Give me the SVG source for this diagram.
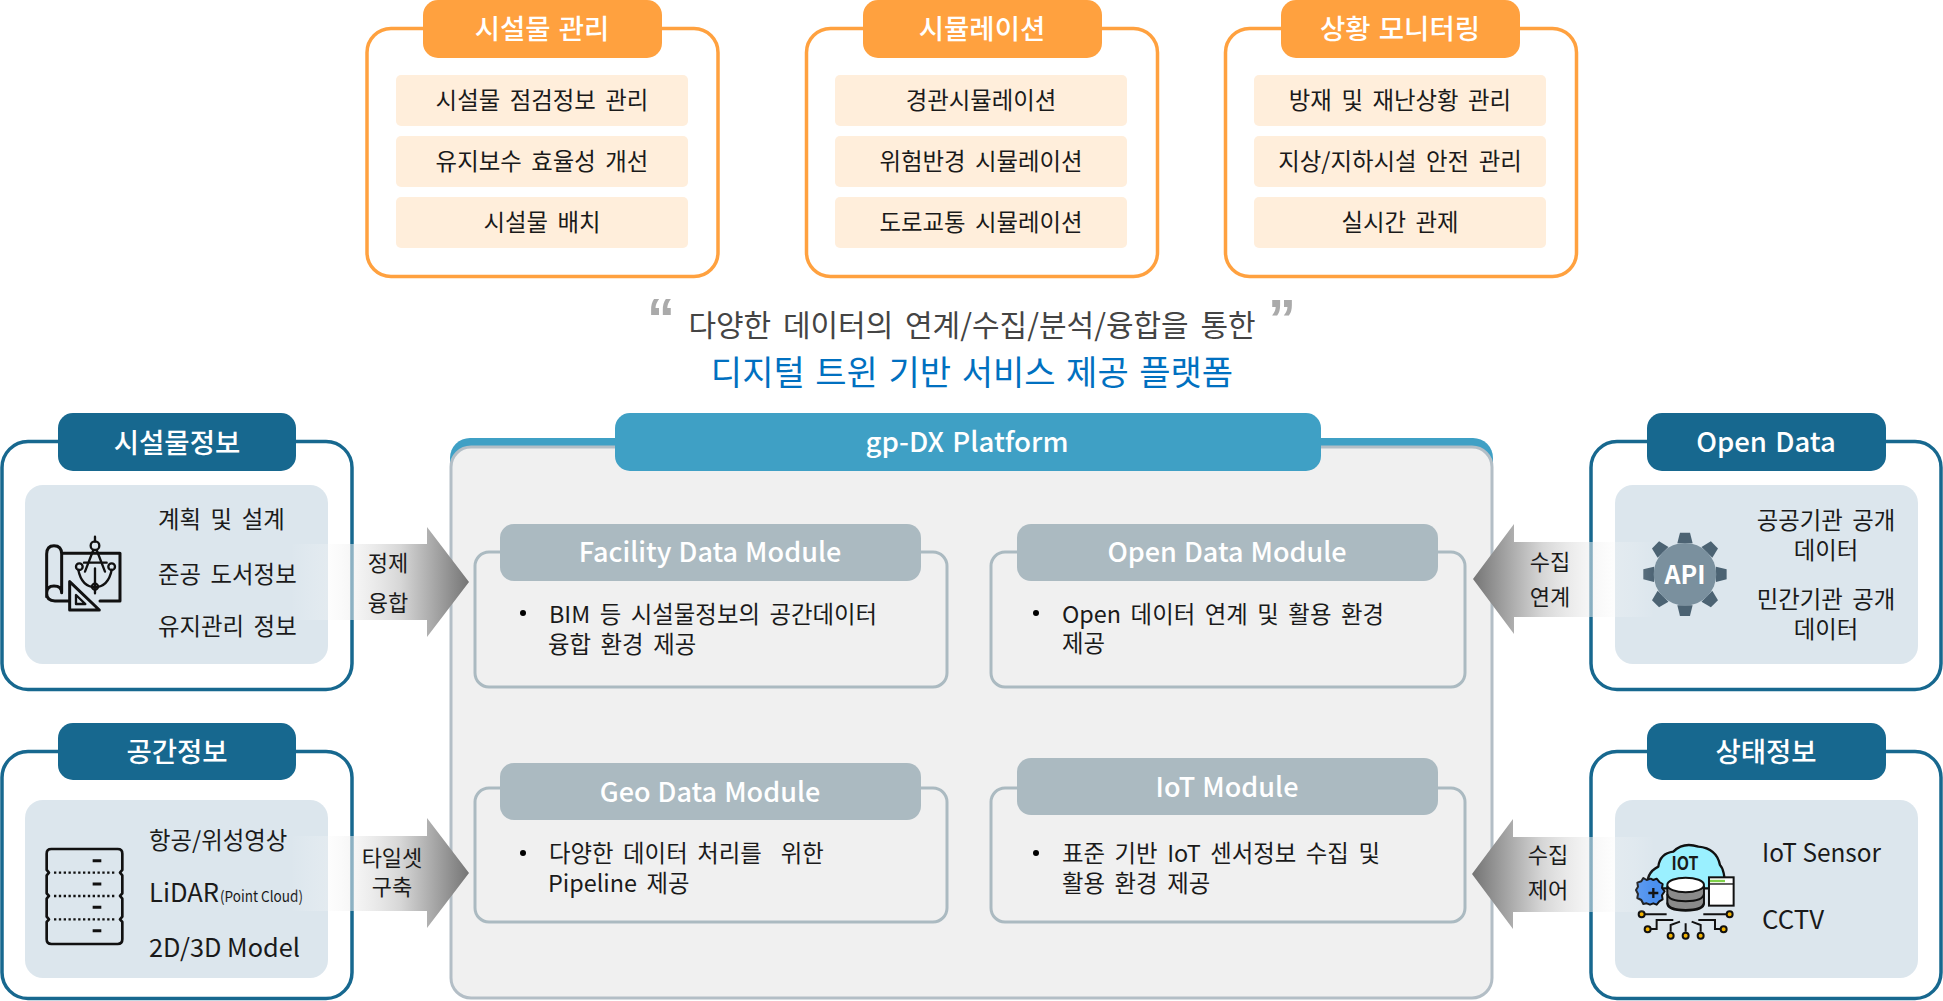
<svg xmlns="http://www.w3.org/2000/svg" width="1943" height="1001" viewBox="0 0 1943 1001">
<defs>
<style>
text{font-family:"Noto Sans CJK KR","Noto Sans",sans-serif;fill:#1a1a1a;white-space:pre}
.m{text-anchor:middle}
.t{font-size:23.4px;word-spacing:4.3px}
.h{font-size:27.5px;font-weight:500;fill:#fff;text-anchor:middle;word-spacing:2px}
.l{font-size:22px;text-anchor:middle}
.mh{font-size:27px;font-weight:500;fill:#fff;text-anchor:middle;word-spacing:1px}
.q{font-family:"Liberation Sans",sans-serif;font-size:56px;font-weight:700;fill:#aaa}
.oframe{fill:#fff;stroke:#ffa13f;stroke-width:3.5}
.ohead{fill:#ffa13f}
.oitem{fill:#ffeedb}
.bframe{fill:#fff;stroke:#17688f;stroke-width:3.5}
.bhead{fill:#17688f}
.inner{fill:#dce6ed}
.mframe{fill:none;stroke:#abbac1;stroke-width:3}
.mhead{fill:#abbac1}
.ic{fill:none;stroke:#111;stroke-width:9;stroke-linecap:round;stroke-linejoin:round}
</style>
<linearGradient id="gl1" gradientUnits="userSpaceOnUse" x1="290" y1="0" x2="469" y2="0">
<stop offset="0" stop-color="#fff" stop-opacity="0"/><stop offset=".21" stop-color="#f8f8f8" stop-opacity=".25"/><stop offset=".35" stop-color="#eee" stop-opacity=".55"/><stop offset=".62" stop-color="#d6d6d6"/><stop offset=".77" stop-color="#b0b0b0"/><stop offset="1" stop-color="#757575"/>
</linearGradient>
<linearGradient id="gr1" gradientUnits="userSpaceOnUse" x1="1655" y1="0" x2="1473" y2="0">
<stop offset="0" stop-color="#fff" stop-opacity="0"/><stop offset=".22" stop-color="#f8f8f8" stop-opacity=".25"/><stop offset=".36" stop-color="#eee" stop-opacity=".55"/><stop offset=".62" stop-color="#d6d6d6"/><stop offset=".77" stop-color="#b0b0b0"/><stop offset="1" stop-color="#757575"/>
</linearGradient>
</defs>
<rect width="1943" height="1001" fill="#fff"/>

<g id="node-facility-mgmt">
<rect class="oframe" x="367" y="28.500" width="351" height="248" rx="24"/>
<rect class="ohead" x="423" y="0" width="239" height="58" rx="15"/>
<text class="h" x="542" y="39">시설물 관리</text>
<rect class="oitem" x="396" y="75" width="292" height="51" rx="5"/>
<rect class="oitem" x="396" y="136" width="292" height="51" rx="5"/>
<rect class="oitem" x="396" y="197" width="292" height="51" rx="5"/>
<text class="t m" x="542" y="109">시설물 점검정보 관리</text>
<text class="t m" x="542" y="170">유지보수 효율성 개선</text>
<text class="t m" x="542" y="231">시설물 배치</text>
</g>
<g id="node-simulation">
<rect class="oframe" x="806.500" y="28.500" width="351" height="248" rx="24"/>
<rect class="ohead" x="863" y="0" width="239" height="58" rx="15"/>
<text class="h" x="982" y="39">시뮬레이션</text>
<rect class="oitem" x="835" y="75" width="292" height="51" rx="5"/>
<rect class="oitem" x="835" y="136" width="292" height="51" rx="5"/>
<rect class="oitem" x="835" y="197" width="292" height="51" rx="5"/>
<text class="t m" x="981" y="109">경관시뮬레이션</text>
<text class="t m" x="981" y="170">위험반경 시뮬레이션</text>
<text class="t m" x="981" y="231">도로교통 시뮬레이션</text>
</g>
<g id="node-monitoring">
<rect class="oframe" x="1225.500" y="28.500" width="351" height="248" rx="24"/>
<rect class="ohead" x="1281" y="0" width="239" height="58" rx="15"/>
<text class="h" x="1400" y="39">상황 모니터링</text>
<rect class="oitem" x="1254" y="75" width="292" height="51" rx="5"/>
<rect class="oitem" x="1254" y="136" width="292" height="51" rx="5"/>
<rect class="oitem" x="1254" y="197" width="292" height="51" rx="5"/>
<text class="t m" x="1400" y="109">방재 및 재난상황 관리</text>
<text class="t m" x="1400" y="170">지상/지하시설 안전 관리</text>
<text class="t m" x="1400" y="231">실시간 관제</text>
</g>

<g id="tagline">
<text class="q" x="647" y="337">“</text>
<text class="q" x="1268" y="338">”</text>
<text class="m" x="972" y="336" style="font-size:30px;word-spacing:5px;fill:#444">다양한 데이터의 연계/수집/분석/융합을 통한</text>
<text class="m" x="972" y="385" style="font-size:34px;word-spacing:3px;fill:#0070c0">디지털 트윈 기반 서비스 제공 플랫폼</text>
</g>

<g id="node-platform">
<rect x="450" y="438" width="1043" height="80" rx="20" fill="#3fa0c5"/>
<rect x="451" y="447" width="1041" height="551" rx="20" fill="#f0f0f0" stroke="#b3bec6" stroke-width="3"/>
<rect x="615" y="413" width="706" height="58" rx="15" fill="#3fa0c5"/>
<text class="h" x="967" y="452" textLength="203" lengthAdjust="spacingAndGlyphs">gp-DX Platform</text>
</g>
<g id="node-facility-module">
<rect class="mframe" x="475" y="552" width="472" height="135" rx="14"/>
<rect class="mhead" x="500" y="524" width="421" height="57" rx="14"/>
<text class="mh" x="710" y="562">Facility Data Module</text>
<circle cx="523" cy="613" r="3"/>
<text class="t" x="549" y="623">BIM 등 시설물정보의 공간데이터</text>
<text class="t" x="548" y="653">융합 환경 제공</text>
</g>
<g id="node-open-module">
<rect class="mframe" x="991" y="552" width="474" height="135" rx="14"/>
<rect class="mhead" x="1017" y="524" width="421" height="57" rx="14"/>
<text class="mh" x="1227" y="562">Open Data Module</text>
<circle cx="1036" cy="613" r="3"/>
<text class="t" x="1062" y="623">Open 데이터 연계 및 활용 환경</text>
<text class="t" x="1062" y="652">제공</text>
</g>
<g id="node-geo-module">
<rect class="mframe" x="475" y="788" width="472" height="134" rx="14"/>
<rect class="mhead" x="500" y="763" width="421" height="57" rx="14"/>
<text class="mh" x="710" y="802">Geo Data Module</text>
<circle cx="523" cy="853" r="3"/>
<text class="t" x="549" y="862">다양한 데이터 처리를  위한</text>
<text class="t" x="548" y="892">Pipeline 제공</text>
</g>
<g id="node-iot-module">
<rect class="mframe" x="991" y="788" width="474" height="134" rx="14"/>
<rect class="mhead" x="1017" y="758" width="421" height="57" rx="14"/>
<text class="mh" x="1227" y="797">IoT Module</text>
<circle cx="1036" cy="853" r="3"/>
<text class="t" x="1062" y="862">표준 기반 IoT 센서정보 수집 및</text>
<text class="t" x="1062" y="892">활용 환경 제공</text>
</g>

<g id="node-facility-info">
<rect class="bframe" x="2" y="441.500" width="350" height="248" rx="26"/>
<rect class="bhead" x="58" y="413" width="238" height="58" rx="15"/>
<text class="h" x="177" y="453">시설물정보</text>
<rect class="inner" x="25" y="485" width="303" height="179" rx="18"/>
<g transform="translate(0,400) scale(.3333)">
<path class="ic" d="M140 590V462Q140 437 162 437Q185 437 185 462V575M185 460H360V603H300M205 603H165Q140 603 140 580Q140 558 162 558Q185 558 185 578"/>
<path class="ic" style="stroke-width:7" d="M285 410V425M280 450L255 515M290 450L315 515M252 488H320M285 505V580M235 510Q245 560 285 562Q325 560 335 510"/>
<circle class="ic" style="stroke-width:7" cx="285" cy="437" r="13"/>
<circle class="ic" style="stroke-width:7" cx="238" cy="500" r="10"/>
<circle class="ic" style="stroke-width:7" cx="335" cy="500" r="10"/>
<circle class="ic" style="stroke-width:7" cx="285" cy="560" r="9"/>
<path class="ic" d="M209 545V630H298Z"/>
<path class="ic" style="stroke-width:7" d="M228 585V612H256Z"/>
</g>
<text class="t" x="158" y="528">계획 및 설계</text>
<text class="t" x="158" y="583">준공 도서정보</text>
<text class="t" x="158" y="635">유지관리 정보</text>
</g>

<g id="node-spatial-info">
<rect class="bframe" x="2" y="751.500" width="350" height="247" rx="26"/>
<rect class="bhead" x="58" y="723" width="238" height="57" rx="15"/>
<text class="h" x="177" y="762">공간정보</text>
<rect class="inner" x="25" y="800" width="303" height="178" rx="18"/>
<g transform="translate(0,710) scale(.3333)">
<path class="ic" style="stroke-width:8" d="M154 417H353Q367 417 367 431V480L360 488L367 496V550L360 558L367 566V620L360 628L367 636V688Q367 702 353 702H154Q140 702 140 688V636L147 628L140 620V566L147 558L140 550V496L147 488L140 480V431Q140 417 154 417Z"/>
<path fill="none" stroke="#111" stroke-width="7" stroke-dasharray="7 7.500" d="M162 488H350M162 558H350M162 628H350"/>
<path fill="none" stroke="#111" stroke-width="9" d="M278 452H304M278 522H304M278 592H304M278 662H304"/>
</g>
<text class="t" x="149" y="849">항공/위성영상</text>
<text x="149" y="902" style="font-size:25px" textLength="70" lengthAdjust="spacingAndGlyphs">LiDAR</text>
<text x="220" y="902" style="font-size:15px" textLength="83" lengthAdjust="spacingAndGlyphs">(Point Cloud)</text>
<text x="149" y="957" style="font-size:25px" textLength="151" lengthAdjust="spacingAndGlyphs">2D/3D Model</text>
</g>

<g id="node-open-data">
<rect class="bframe" x="1591" y="441.500" width="350" height="248" rx="26"/>
<rect class="bhead" x="1647" y="413" width="239" height="58" rx="15"/>
<text class="h" x="1766" y="452">Open Data</text>
<rect class="inner" x="1615" y="485" width="303" height="179" rx="18"/>
<g transform="translate(1460,400) scale(.3333)">
<g fill="#4c6373">
<path id="tooth" d="M652 430L660 398H690L698 430Z"/>
<use href="#tooth" transform="rotate(45 675 523)"/><use href="#tooth" transform="rotate(90 675 523)"/><use href="#tooth" transform="rotate(135 675 523)"/><use href="#tooth" transform="rotate(180 675 523)"/><use href="#tooth" transform="rotate(225 675 523)"/><use href="#tooth" transform="rotate(270 675 523)"/><use href="#tooth" transform="rotate(315 675 523)"/>
</g>
<circle cx="675" cy="523" r="94" fill="#7a909e"/>
</g>
<text class="m" x="1685" y="584" style="font-size:26px;font-weight:700;fill:#fff" textLength="41" lengthAdjust="spacingAndGlyphs">API</text>
<text class="t m" x="1826" y="529">공공기관 공개</text>
<text class="t m" x="1826" y="559">데이터</text>
<text class="t m" x="1826" y="608">민간기관 공개</text>
<text class="t m" x="1826" y="638">데이터</text>
</g>

<g id="node-status-info">
<rect class="bframe" x="1591" y="751.500" width="350" height="247" rx="26"/>
<rect class="bhead" x="1647" y="723" width="239" height="57" rx="15"/>
<text class="h" x="1766" y="762">상태정보</text>
<rect class="inner" x="1615" y="800" width="303" height="178" rx="18"/>
<g transform="translate(1460,710) scale(.3333)">
<path d="M565 535Q555 490 595 470Q600 430 640 425Q670 395 715 410Q770 415 780 465Q795 480 795 535Z" fill="#9af0ff" stroke="#111" stroke-width="7" stroke-linejoin="round"/>
<path d="M560 510l12-4 8 4 10-4 8 10 10 6-2 12 8 10-8 12 2 12-10 6-8 10-10-4-10 4-10-4-10 2-6-12-12-6 2-12-6-12 6-10-2-12 12-4 6-10z" fill="#4a8fef" stroke="#111" stroke-width="6" stroke-linejoin="round"/>
<path d="M580 534V564M565 549H595" stroke="#111" stroke-width="7"/>
<rect x="747" y="502" width="74" height="85" fill="#fff" stroke="#111" stroke-width="6"/>
<path d="M750 513H795" stroke="#7fd04a" stroke-width="7"/>
<path d="M747 522H821" stroke="#111" stroke-width="4"/>
<path d="M622 530V580Q622 602 677 602Q732 602 732 580V530Z" fill="#8a8a8a" stroke="#111" stroke-width="6"/>
<ellipse cx="677" cy="525" rx="55" ry="22" fill="#fff" stroke="#111" stroke-width="6"/>
<path d="M622 552Q625 574 677 574Q729 574 732 552M622 578Q625 600 677 600Q729 600 732 578" fill="none" stroke="#111" stroke-width="6"/>
<g fill="none" stroke="#111" stroke-width="6">
<path d="M555 613H620M730 613H798M570 657H590V630H640M632 665V645L660 635M677 665V640M722 665V645L695 635M783 657H765V630H715"/>
</g>
<g fill="#f4b400" stroke="#111" stroke-width="6">
<circle cx="545" cy="613" r="9"/><circle cx="809" cy="613" r="9"/><circle cx="563" cy="658" r="9"/><circle cx="791" cy="658" r="9"/><circle cx="632" cy="677" r="9"/><circle cx="677" cy="677" r="9"/><circle cx="722" cy="677" r="9"/>
</g>
</g>
<text class="m" x="1685" y="870" style="font-size:19px;font-weight:700" textLength="27" lengthAdjust="spacingAndGlyphs">IOT</text>
<text x="1762" y="862" style="font-size:25px;word-spacing:0" textLength="119" lengthAdjust="spacingAndGlyphs">IoT Sensor</text>
<text x="1762" y="929" style="font-size:25px" textLength="62" lengthAdjust="spacingAndGlyphs">CCTV</text>
</g>

<g id="connectors">
<path fill="url(#gl1)" d="M290 544H427V527L469 582L427 637V620H290Z"/>
<path fill="url(#gl1)" d="M290 836H427V818L469 873L427 928V911H290Z"/>
<path fill="url(#gr1)" d="M1655 542H1514V524L1473 579L1514 634V617H1655Z"/>
<path fill="url(#gr1)" d="M1655 837H1513V819L1472 874L1513 929V912H1655Z"/>
<text class="l" x="388" y="571">정제</text>
<text class="l" x="388" y="611">융합</text>
<text class="l" x="392" y="866">타일셋</text>
<text class="l" x="392" y="895">구축</text>
<text class="l" x="1550" y="570">수집</text>
<text class="l" x="1550" y="605">연계</text>
<text class="l" x="1548" y="863">수집</text>
<text class="l" x="1548" y="898">제어</text>
</g>
</svg>
